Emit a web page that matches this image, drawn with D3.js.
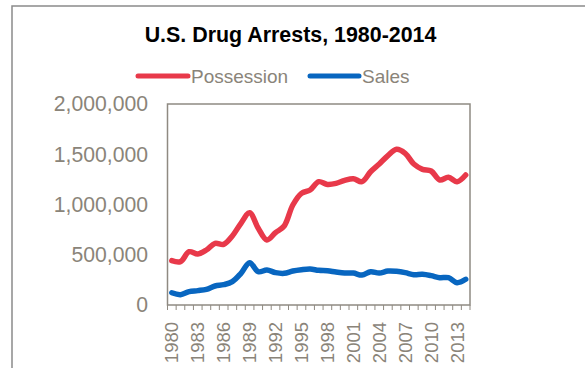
<!DOCTYPE html>
<html><head><meta charset="utf-8">
<script src="https://cdn.jsdelivr.net/npm/d3@7/dist/d3.min.js"></script>
<style>
html,body{margin:0;padding:0;background:#fff;}
svg{display:block;}
text{font-family:"Liberation Sans",Arial,sans-serif;}
</style></head>
<body>
<svg id="chart" width="585" height="368"></svg>
<script>
const years = d3.range(1980, 2015);
const possession = [441000,431000,530000,507000,547000,614000,604000,687000,813000,918000,
  763000,647000,720000,786000,995000,1111000,1144000,1227000,1200000,1210000,
  1240000,1257000,1227000,1326000,1403000,1486000,1549000,1509000,1403000,1350000,
  1333000,1244000,1270000,1227000,1294000];
const sales = [122000,103000,133000,143000,156000,189000,202000,232000,315000,421000,
  331000,348000,322000,315000,338000,351000,358000,345000,341000,328000,
  318000,318000,298000,331000,318000,338000,335000,322000,302000,305000,
  292000,272000,272000,222000,256000];
const yTicks = [0,500000,1000000,1500000,2000000];
const xLabelYears = [1980,1983,1986,1989,1992,1995,1998,2001,2004,2007,2010,2013];
const seriesNames = ["Possession","Sales"];
const seriesColors = ["#e8394a","#0866c0"];

const svg = d3.select("#chart");
const textColor = "#8a8479";
const axisColor = "#8f8a82";

// outer chart border
svg.append("rect").attr("x",12).attr("y",6).attr("width",600).attr("height",400)
  .attr("fill","none").attr("stroke","#8a8a8a").attr("stroke-width",1.5);

const L=167.5, R=470, T=104, B=305;
const x = d3.scaleBand().domain(years).range([L,R]).padding(0);
const y = d3.scaleLinear().domain([0,2000000]).range([B,T]);

// title
svg.append("text").attr("x",290.5).attr("y",42).attr("text-anchor","middle")
  .attr("font-size",21.4).attr("font-weight","bold").attr("fill","#000")
  .text("U.S. Drug Arrests, 1980-2014");

// legend
const legend = [{x1:138,x2:188,tx:191},{x1:310,x2:359,tx:362}];
seriesNames.forEach((n,i)=>{
  const g = legend[i];
  svg.append("line").attr("x1",g.x1).attr("x2",g.x2).attr("y1",76).attr("y2",76)
    .attr("stroke",seriesColors[i]).attr("stroke-width",5).attr("stroke-linecap","round");
  svg.append("text").attr("x",g.tx).attr("y",83).attr("font-size",19)
    .attr("fill",textColor).text(n);
});

// plot border
svg.append("rect").attr("x",L).attr("y",T).attr("width",R-L).attr("height",B-T)
  .attr("fill","none").attr("stroke",axisColor).attr("stroke-width",1.5);

// y axis labels
const yAxis = d3.axisLeft(y).tickValues(yTicks).tickSize(0).tickPadding(19.5)
  .tickFormat(d3.format(","));
const gy = svg.append("g").attr("transform",`translate(${L},0)`).call(yAxis);
gy.select(".domain").remove();
gy.selectAll("text").attr("font-size",21.2).attr("fill",textColor)
  .attr("font-family","Liberation Sans, Arial, sans-serif");

// x ticks at category boundaries
const bounds = years.map(d=>x(d)).concat([R]);
svg.append("g").selectAll("line").data(bounds).join("line")
  .attr("x1",d=>d).attr("x2",d=>d).attr("y1",B).attr("y2",B+5)
  .attr("stroke",axisColor).attr("stroke-width",1);

// x labels
const xAxis = d3.axisBottom(x).tickValues(xLabelYears).tickSize(0).tickPadding(0);
const gx = svg.append("g").attr("transform",`translate(0,${B})`).call(xAxis);
gx.select(".domain").remove();
gx.selectAll("text").attr("font-size",18.5).attr("fill",textColor)
  .attr("font-family","Liberation Sans, Arial, sans-serif")
  .attr("text-anchor","end").attr("transform","rotate(-90)")
  .attr("x",-17).attr("y",0).attr("dy","0.35em");

// lines
const line = d3.line().x((d,i)=>x(years[i])+x.bandwidth()/2).y(d=>y(d))
  .curve(d3.curveCatmullRom.alpha(0.5));
[possession,sales].forEach((s,i)=>{
  svg.append("path").datum(s).attr("d",line).attr("fill","none")
    .attr("stroke",seriesColors[i]).attr("stroke-width",5.5)
    .attr("stroke-linecap","round").attr("stroke-linejoin","round");
});
</script>
</body></html>
